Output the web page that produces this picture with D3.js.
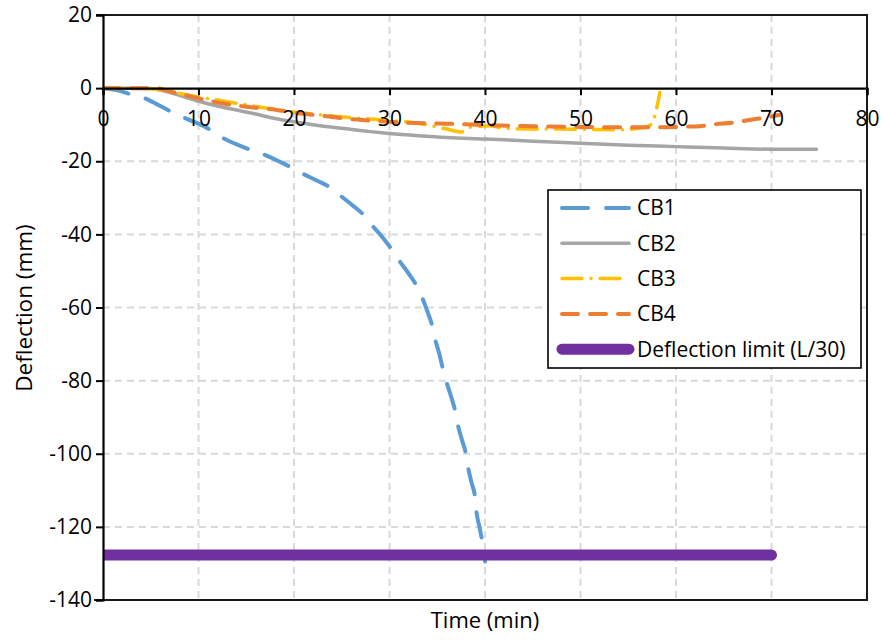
<!DOCTYPE html>
<html>
<head>
<meta charset="utf-8">
<script src="https://cdn.jsdelivr.net/npm/d3@7"></script>
<style>
  html, body { margin: 0; padding: 0; background: #fff; }
  svg text { font-family: "Open Sans", Lato, sans-serif; fill: #000; }
</style>
</head>
<body>
<svg id="chart" width="881" height="641"></svg>
<script>
// Mid-span deflection of the four beams during the fire test
const cb1Time = [0, 1.5, 2.8, 4.4, 5.8, 7.2, 8.6, 10.7, 12.6, 14, 15.6, 17, 18.5, 19.8, 21, 22.5, 23.8, 25, 26.2, 27.3, 28.3, 29.3, 30.2, 31.1, 32, 32.8, 33.5, 34, 34.5, 34.8, 35.2, 35.6, 36, 36.5, 36.9, 37.2, 37.6, 38, 38.25, 38.6, 38.95, 39.1, 39.4, 39.7, 40];
const cb1Defl = [0, -0.6, -1.6, -2.8, -4.6, -6.5, -8.2, -10.6, -13.7, -15.4, -17, -18.3, -20.1, -21.8, -23.5, -25.4, -27.2, -29.7, -32.2, -34.7, -37.9, -40.9, -44, -47.5, -50.7, -53.9, -57.8, -61.3, -65.3, -68.9, -72.5, -76.9, -80.7, -84.8, -88.5, -92.6, -96.3, -100, -104, -108, -111.8, -115.8, -119.8, -123.9, -129.5];

const cb2Time = [0, 3, 5, 6, 7, 8, 10, 12, 14, 16, 18, 20, 22, 25, 28, 30, 33, 36, 40, 45, 50, 55, 60, 65, 70, 74.7];
const cb2Defl = [0, 0, -0.1, -0.5, -1.2, -2, -3.6, -4.9, -6, -7.1, -8.3, -9.2, -10, -11, -11.9, -12.4, -13, -13.5, -13.9, -14.5, -15.1, -15.6, -16, -16.4, -16.7, -16.7];

const cb3Time = [0, 3, 5, 7, 10, 13, 16, 19, 22, 26, 30, 33, 36, 37.5, 38.6, 40.5, 42, 45, 48, 51, 54, 56, 57, 57.5, 57.8, 58.1, 58.3];
const cb3Defl = [0, 0, -0.2, -1, -2.4, -3.7, -5, -6.2, -7.1, -8.1, -8.8, -9.6, -11.2, -12, -10.6, -10.3, -11, -11.2, -11.2, -11.3, -11.4, -11, -10.5, -9.5, -7.5, -4, -1.2];

const cb4Time = [0, 3, 5.5, 7, 8.5, 10, 12.6, 15, 17.7, 20, 23, 26.6, 30, 32, 35, 37, 40, 45, 50, 55, 58, 60, 62.5, 64, 66, 68, 69.5, 70.9];
const cb4Defl = [0, 0, 0, -0.9, -1.8, -2.8, -4.2, -5.1, -5.8, -6.7, -7.6, -8.6, -9.2, -9.5, -9.7, -9.8, -10.1, -10.4, -10.6, -10.7, -10.7, -10.6, -10.4, -9.9, -9.4, -8.6, -8, -7.3];

const limitTime = [0, 70];
const limitDefl = [-127.7, -127.7];

const seriesNames = ["CB1", "CB2", "CB3", "CB4", "Deflection limit (L/30)"];
const xTicks = [0, 10, 20, 30, 40, 50, 60, 70, 80];
const yTicks = [20, 0, -20, -40, -60, -80, -100, -120, -140];
const xTitle = "Time (min)";
const yTitle = "Deflection (mm)";

const svg = d3.select("#chart");
const plotL = 103, plotR = 867, plotT = 15, plotB = 600;
const x = d3.scaleLinear().domain([0, 80]).range([plotL, plotR]);
const y = d3.scaleLinear().domain([20, -140]).range([plotT, plotB]);

const styles = [
  { color: "#5B9BD5", width: 4, dash: "26 18", cap: "round" },
  { color: "#A5A5A5", width: 3.5, dash: null, cap: "round" },
  { color: "#FFC000", width: 3.5, dash: "20 9 0.1 9", cap: "round" },
  { color: "#ED7D31", width: 4, dash: "16 12", cap: "round" },
  { color: "#7030A0", width: 11, dash: null, cap: "round" }
];

// plain hyphen-minus labels
const plainFormat = d => String(d);

// gridlines
const grid = svg.append("g").attr("stroke", "#d9d9d9").attr("stroke-width", 2).attr("stroke-dasharray", "7 5");
grid.selectAll("line.v").data(xTicks.filter(t => t > 0 && t < 80)).join("line").attr("class", "v")
  .attr("x1", d => x(d)).attr("x2", d => x(d)).attr("y1", plotT).attr("y2", plotB);
grid.selectAll("line.h").data(yTicks.filter(t => t < 0 && t > -140)).join("line").attr("class", "h")
  .attr("x1", plotL).attr("x2", plotR).attr("y1", d => y(d)).attr("y2", d => y(d));

svg.append("clipPath").attr("id", "plotClip").append("rect")
  .attr("x", plotL).attr("y", plotT).attr("width", plotR - plotL).attr("height", plotB - plotT);

const zip = (ts, vs) => ts.map((t, i) => [t, vs[i]]);
const series = [
  zip(cb1Time, cb1Defl),
  zip(cb2Time, cb2Defl),
  zip(cb3Time, cb3Defl),
  zip(cb4Time, cb4Defl),
  zip(limitTime, limitDefl)
];

const line = d3.line().x(d => x(d[0])).y(d => y(d[1])).curve(d3.curveMonotoneX);
const plot = svg.append("g").attr("clip-path", "url(#plotClip)");
series.forEach((s, i) => {
  const st = styles[i];
  plot.append("path").datum(s)
    .attr("d", line)
    .attr("fill", "none")
    .attr("stroke", st.color)
    .attr("stroke-width", st.width)
    .attr("stroke-linecap", st.cap)
    .attr("stroke-linejoin", "round")
    .attr("stroke-dasharray", st.dash);
});

// plot border (top, right, bottom)
svg.append("path")
  .attr("d", `M${plotL - 7},${plotT}H${plotR}V${plotB}H${plotL - 9}`)
  .attr("fill", "none").attr("stroke", "#1a1a1a").attr("stroke-width", 2);

// y axis
const yAxis = svg.append("g").attr("transform", `translate(${plotL},0)`)
  .call(d3.axisLeft(y).tickValues(yTicks).tickSize(7).tickPadding(4).tickFormat(plainFormat));
yAxis.select(".domain").attr("stroke", "#000").attr("stroke-width", 2.2);
yAxis.selectAll(".tick line").attr("stroke", "#000").attr("stroke-width", 2);
yAxis.selectAll("text").style("font-size", "21px").attr("fill", "#000");

// x axis crossing at zero deflection
const xAxis = svg.append("g").attr("transform", `translate(0,${y(0)})`)
  .call(d3.axisBottom(x).tickValues(xTicks).tickSize(7).tickPadding(16).tickFormat(plainFormat));
xAxis.select(".domain").attr("stroke", "#000").attr("stroke-width", 2.2);
xAxis.selectAll(".tick line").attr("stroke", "#000").attr("stroke-width", 2);
xAxis.selectAll("text").style("font-size", "21px").attr("fill", "#000");

// axis titles
svg.append("text").attr("x", (plotL + plotR) / 2).attr("y", 628)
  .attr("text-anchor", "middle").style("font-size", "22px").text(xTitle);
svg.append("text").attr("transform", `translate(32,308) rotate(-90)`)
  .attr("text-anchor", "middle").style("font-size", "22.5px").text(yTitle);

// legend
const legend = svg.append("g").attr("transform", "translate(548,190)");
legend.append("rect").attr("width", 313).attr("height", 178)
  .attr("fill", "#fff").attr("stroke", "#000").attr("stroke-width", 1.6);
seriesNames.forEach((name, i) => {
  const st = styles[i];
  const ly = 18 + i * 35.3;
  legend.append("line")
    .attr("x1", 14).attr("x2", 81).attr("y1", ly).attr("y2", ly)
    .attr("stroke", st.color).attr("stroke-width", st.width)
    .attr("stroke-linecap", st.cap).attr("stroke-dasharray", st.dash);
  legend.append("text").attr("x", 89).attr("y", ly).attr("dy", "0.35em")
    .style("font-size", "21px").text(name);
});
</script>
</body>
</html>
